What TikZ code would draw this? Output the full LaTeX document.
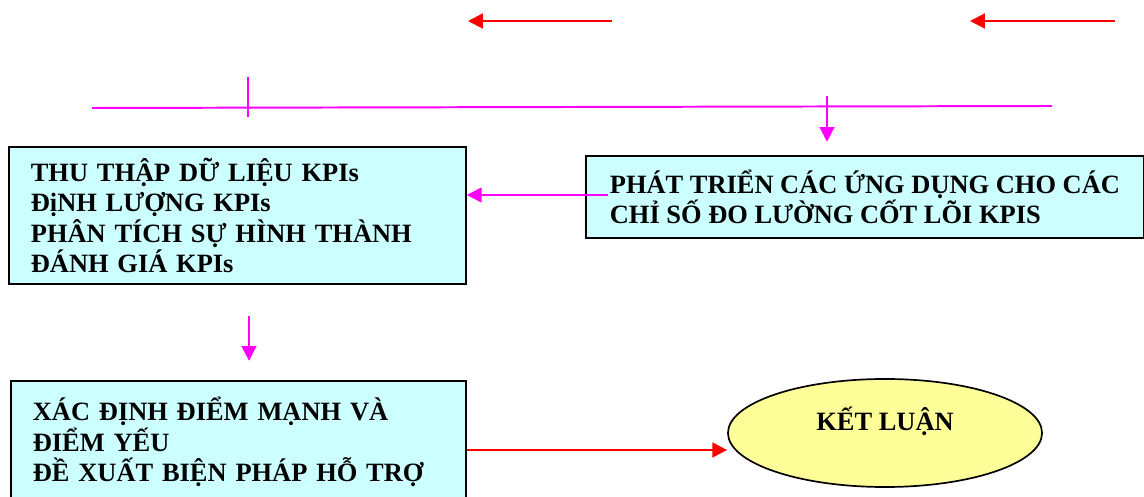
\documentclass[tikz,border=0pt]{standalone}
\usepackage{fontspec}
\setmainfont{Liberation Serif}
\usetikzlibrary{arrows.meta,shapes.geometric}
\definecolor{Sky}{HTML}{CCFFFF}
\definecolor{Butter}{HTML}{FFFF99}
\definecolor{Pink}{HTML}{FF00FF}
\definecolor{Flame}{HTML}{FF0000}

\begin{document}
\begin{tikzpicture}[x=0.025cm,y=-0.025cm,
    kpibox/.style={draw=black,line width=1.2pt,fill=Sky,anchor=north west,align=left,inner xsep=0.55cm,font=\fontsize{18.8}{21.7}\selectfont\bfseries},
    pinkline/.style={Pink,line width=1.4pt},
    pinkarrow/.style={pinkline,-{Triangle[length=10.5pt,width=10.5pt]}},
    redarrow/.style={Flame,line width=1.5pt,-{Triangle[length=10.5pt,width=10.5pt]}}]
    \useasboundingbox (0,0) rectangle (1144,497);
    \clip (0,0) rectangle (1144,497);

    % top arrows
    \coordinate (topA) at (612,21);
    \coordinate (topB) at (468,21);
    \coordinate (topC) at (1115,21);
    \coordinate (topD) at (970,21);
    \draw[redarrow] (topA) -- (topB);
    \draw[redarrow] (topC) -- (topD);

    % pink rail with ticks
    \coordinate (railL) at (92,108);
    \coordinate (railR) at (1052,106);
    \coordinate (tickT) at (248,77);
    \coordinate (tickB) at (248,117);
    \coordinate (dropR) at (827,96);
    \draw[pinkline] (railL) -- (railR);
    \draw[pinkline] (tickT) -- (tickB);

    \node[kpibox,text width=10.325cm,minimum height=3.425cm] (collect) at (8,146)
      {THU THẬP DỮ LIỆU KPIs\\ĐịNH LƯỢNG KPIs\\PHÂN TÍCH SỰ HÌNH THÀNH\\ĐÁNH GIÁ KPIs};
    \node[kpibox,minimum width=13.95cm,minimum height=2.05cm] (develop) at (585,155)
      {PHÁT TRIỂN CÁC ỨNG DỤNG CHO CÁC\\CHỈ SỐ ĐO LƯỜNG CỐT LÕI KPIS};
    \node[kpibox,text width=10.275cm,minimum height=3.05cm] (assess) at (10,380)
      {XÁC ĐỊNH ĐIỂM MẠNH VÀ\\ĐIỂM YẾU\\ĐỀ XUẤT BIỆN PHÁP HỖ TRỢ};
    \node[ellipse,draw=black,line width=1.2pt,fill=Butter,minimum width=7.85cm,minimum height=2.7cm,text depth=0.7cm,font=\fontsize{18.8}{21.7}\selectfont\bfseries] (conclude) at (885,433) {KẾT LUẬN};

    % connectors
    \coordinate (feedT) at (608,195);
    \coordinate (dropL) at (249,316);
    \coordinate (resultY) at (465,450);
    \draw[pinkarrow,shorten >=0.33cm] (dropR) -- (dropR |- develop.north);
    \draw[pinkarrow] (feedT) -- (feedT -| collect.east);
    \draw[pinkarrow,shorten >=0.48cm] (dropL) -- (dropL |- assess.north);
    \draw[redarrow] (resultY -| assess.east) -- (resultY -| conclude.west);
  \end{tikzpicture}
\end{document}
